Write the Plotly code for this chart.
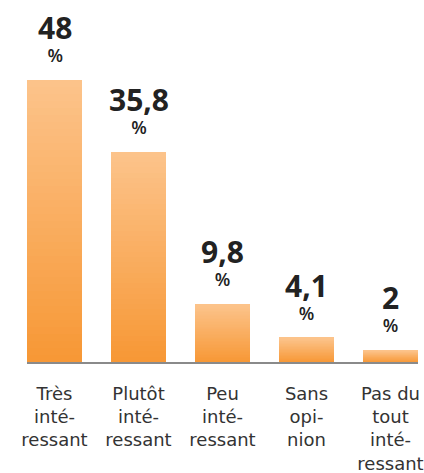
import plotly.graph_objects as go

categories = ["Très intéressant", "Plutôt intéressant", "Peu intéressant", "Sans opinion", "Pas du tout intéressant"]
tick_labels = [
    "Très<br>inté-<br>ressant",
    "Plutôt<br>inté-<br>ressant",
    "Peu<br>inté-<br>ressant",
    "Sans<br>opi-<br>nion",
    "Pas du<br>tout<br>inté-<br>ressant",
]
values = [48, 35.8, 9.8, 4.1, 2]

FONT = "Open Sans"
LABEL_FONT = "DejaVu Sans"
TOP = (252, 195, 138)
BOTTOM = (247, 152, 54)
N_SLICES = 40

fig = go.Figure()

# vertical gradient per bar: stack thin slices, dark at the base, light on top
for k in range(N_SLICES):
    t = k / (N_SLICES - 1)
    rgb = tuple(round(BOTTOM[i] + (TOP[i] - BOTTOM[i]) * t) for i in range(3))
    fig.add_trace(
        go.Bar(
            x=categories,
            y=[v / N_SLICES for v in values],
            marker=dict(color="rgb(%d,%d,%d)" % rgb, line=dict(width=0)),
            hoverinfo="skip",
            showlegend=False,
        )
    )

# value labels: big bold number with a smaller % on the line below
for cat, v in zip(categories, values):
    num = f"{v:g}".replace(".", ",")
    fig.add_annotation(
        x=cat, y=v, showarrow=False, yanchor="bottom", yshift=11,
        text=f"<b><span style='font-size:30px'>{num}</span></b><br>%",
        font=dict(family=FONT, size=18, color="#222222", weight=600),
    )

fig.update_layout(
    barmode="stack",
    bargap=0.345,
    width=424,
    height=473,
    template="plotly_white",
    plot_bgcolor="white",
    paper_bgcolor="white",
    margin=dict(l=27, r=6, t=0, b=111),
    font=dict(family=FONT, color="#333333"),
)
fig.update_xaxes(
    type="category",
    automargin=False,
    range=[-0.3274, 4.3274],
    tickmode="array",
    tickvals=categories,
    ticktext=tick_labels,
    tickfont=dict(family=LABEL_FONT, size=18, color="#333333"),
    ticklabeloverflow="allow",
    ticks="outside",
    ticklen=14,
    tickcolor="rgba(0,0,0,0)",
    showline=True,
    linecolor="rgba(60,60,60,0.6)",
    linewidth=2,
    showgrid=False,
    zeroline=False,
)
fig.update_yaxes(
    range=[0, 61.6],
    visible=False,
    showgrid=False,
    zeroline=False,
)

fig.write_html(
    "out.html",
    config={"displayModeBar": False},
    post_script="document.body.style.margin='0';",
)
